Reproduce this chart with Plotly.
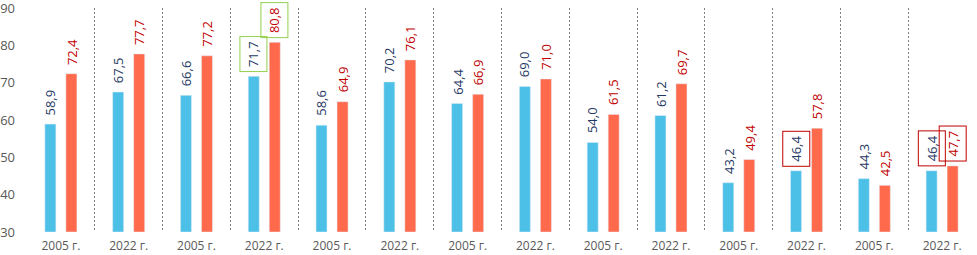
import plotly.graph_objects as go

years = ["2005 г.", "2022 г."] * 7
blue_vals = [58.9, 67.5, 66.6, 71.7, 58.6, 70.2, 64.4, 69.0, 54.0, 61.2, 43.2, 46.4, 44.3, 46.4]
red_vals = [72.4, 77.7, 77.2, 80.8, 64.9, 76.1, 66.9, 71.0, 61.5, 69.7, 49.4, 57.8, 42.5, 47.7]
# label frames: None, "green" or "red"
blue_box = [None, None, None, "green", None, None, None, None, None, None, None, "red", None, "red"]
red_box = [None, None, None, "green", None, None, None, None, None, None, None, None, None, "red"]

AXIS_MIN = 30
BLUE = "#4dc0e8"
RED = "#ff6a4d"
BLUE_TXT = "#1f3864"
RED_TXT = "#c00000"
BOX = {"green": "#92d050", "red": "#c00000", None: "rgba(0,0,0,0)"}

x = list(range(len(years)))
fmt = lambda v: f"{v:.1f}".replace(".", ",")

fig = go.Figure()
# bars start from the bottom of the axis (30)
fig.add_trace(go.Bar(x=x, y=[v - AXIS_MIN for v in blue_vals], base=AXIS_MIN,
                     marker_color=BLUE, hoverinfo="skip"))
fig.add_trace(go.Bar(x=x, y=[v - AXIS_MIN for v in red_vals], base=AXIS_MIN,
                     marker_color=RED, hoverinfo="skip"))

off = 0.155
for i in x:
    for v, dx, col, box in ((blue_vals[i], -off, BLUE_TXT, blue_box[i]),
                            (red_vals[i], off, RED_TXT, red_box[i])):
        fig.add_annotation(
            x=i + dx, y=v, text=fmt(v), textangle=-90,
            showarrow=False, yanchor="bottom", xanchor="center", yshift=4,
            font=dict(color=col, size=13, family="Open Sans"),
            bordercolor=BOX[box], borderwidth=1, borderpad=4,
        )

fig.update_layout(
    width=977, height=255,
    margin=dict(l=27, r=1, t=8, b=23),
    plot_bgcolor="white", paper_bgcolor="white",
    barmode="group", bargap=0.38, bargroupgap=0.476,
    showlegend=False,
    font=dict(family="Open Sans", size=12, color="#595959"),
    xaxis=dict(
        range=[-0.5, 13.5], tickvals=x, ticktext=years,
        showgrid=False, zeroline=False, showline=False, ticks="",
        automargin=False, ticklabelstandoff=5,
        tickfont=dict(size=12, color="#595959"),
        minor=dict(tick0=0.5, dtick=1, showgrid=True, griddash="2px,2px",
                   gridcolor="#808080", gridwidth=1),
    ),
    yaxis=dict(
        range=[30, 90], tickvals=[30, 40, 50, 60, 70, 80, 90],
        showgrid=False, zeroline=False, showline=False,
        automargin=False, ticklabeloverflow="allow",
        tickfont=dict(size=13, color="#595959"), ticklabelstandoff=11,
    ),
)

fig.write_html("out.html", config={"displayModeBar": False},
               post_script="document.body.style.margin='0';")
